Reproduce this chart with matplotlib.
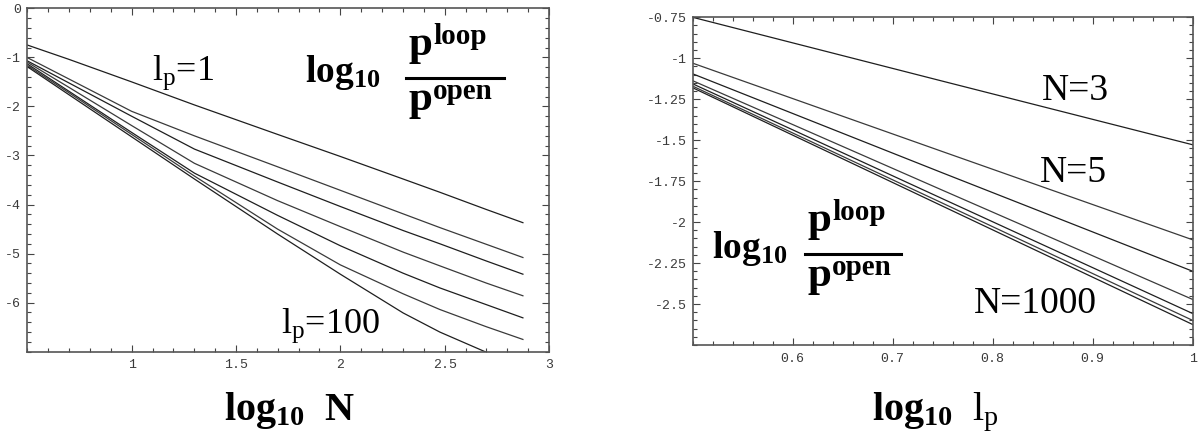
import matplotlib
matplotlib.use("Agg")
import matplotlib.pyplot as plt
from matplotlib.lines import Line2D
from matplotlib.ticker import FixedLocator, FixedFormatter, MultipleLocator

plt.rcParams['mathtext.fontset'] = 'custom'
plt.rcParams['mathtext.rm'] = 'Liberation Serif'
plt.rcParams['mathtext.bf'] = 'Liberation Serif:bold'
plt.rcParams['mathtext.it'] = 'Liberation Serif:italic'
plt.rcParams['axes.unicode_minus'] = False

# ---------------- data: left panel (log10 N on x) ----------------
logN = [0.477, 0.699, 1.0, 1.301, 1.699, 2.0, 2.301, 2.477, 2.699, 2.875]
left_lp1   = [-0.715, -1.04, -1.50, -1.97, -2.57, -3.02, -3.48, -3.75, -4.10, -4.37]
left_lp2   = [-0.955, -1.44, -2.10, -2.60, -3.23, -3.71, -4.19, -4.47, -4.81, -5.08]
left_lp3   = [-1.02, -1.52, -2.20, -2.87, -3.54, -4.04, -4.53, -4.80, -5.15, -5.42]
left_lp5   = [-1.04, -1.61, -2.39, -3.16, -3.92, -4.45, -4.97, -5.25, -5.60, -5.86]
left_lp10  = [-1.07, -1.69, -2.53, -3.36, -4.22, -4.84, -5.40, -5.70, -6.04, -6.31]
left_lp20  = [-1.10, -1.72, -2.57, -3.42, -4.50, -5.23, -5.82, -6.14, -6.49, -6.75]
left_lp100 = [-1.125, -1.76, -2.62, -3.48, -4.60, -5.42, -6.21, -6.60, -7.01, -7.32]
left_series = [left_lp1, left_lp2, left_lp3, left_lp5, left_lp10, left_lp20, left_lp100]

left_xticks = [1, 1.5, 2, 2.5, 3]
left_xticklabels = ["1", "1.5", "2", "2.5", "3"]
left_yticks = [0, -1, -2, -3, -4, -5, -6]
left_yticklabels = ["0", "-1", "-2", "-3", "-4", "-5", "-6"]

# ---------------- data: right panel (log10 lp on x) ----------------
loglp = [0.5, 0.75, 1.0]
right_N3    = [-0.750, -1.140, -1.528]
right_N5    = [-1.030, -1.570, -2.108]
right_N10   = [-1.095, -1.700, -2.300]
right_N20   = [-1.137, -1.806, -2.472]
right_N50   = [-1.156, -1.858, -2.558]
right_N100  = [-1.170, -1.885, -2.600]
right_N1000 = [-1.180, -1.903, -2.625]
right_series = [right_N3, right_N5, right_N10, right_N20, right_N50, right_N100, right_N1000]

right_xticks = [0.6, 0.7, 0.8, 0.9, 1.0]
right_xticklabels = ["0.6", "0.7", "0.8", "0.9", "1"]
right_yticks = [-0.75, -1, -1.25, -1.5, -1.75, -2, -2.25, -2.5]
right_yticklabels = ["-0.75", "-1", "-1.25", "-1.5", "-1.75", "-2", "-2.25", "-2.5"]

W, H = 1202, 436
fig = plt.figure(figsize=(W / 100, H / 100), dpi=100)

def rect(x0, y0, x1, y1):
    return [x0 / W, 1 - y1 / H, (x1 - x0) / W, (y1 - y0) / H]

ax1 = fig.add_axes(rect(27.3, 8.3, 549, 351.7))
ax2 = fig.add_axes(rect(692.7, 17.3, 1192.7, 345))

line_colors = ['#1e1e1e', '#3a3a3a']

def style(ax, xt, xtl, yt, ytl, xminor, yminor):
    for s in ax.spines.values():
        s.set_color('#555555')
        s.set_linewidth(1.2)
    ax.xaxis.set_major_locator(FixedLocator(xt))
    ax.xaxis.set_major_formatter(FixedFormatter(xtl))
    ax.yaxis.set_major_locator(FixedLocator(yt))
    ax.yaxis.set_major_formatter(FixedFormatter(ytl))
    ax.xaxis.set_minor_locator(MultipleLocator(xminor))
    ax.yaxis.set_minor_locator(MultipleLocator(yminor))
    ax.tick_params(which='both', direction='in', top=True, right=True,
                   color='#444444', width=0.8)
    ax.tick_params(which='major', length=5)
    ax.tick_params(which='minor', length=3)
    ax.tick_params(axis='x', which='major', pad=5.5)
    ax.tick_params(axis='y', which='major', pad=4.5)
    for lab in ax.get_xticklabels() + ax.get_yticklabels():
        lab.set_fontfamily('Liberation Mono')
        lab.set_fontsize(9.5)
        lab.set_color('#3a3a3a')

for i, ys in enumerate(left_series):
    ax1.plot(logN, ys, color=line_colors[i % 2], lw=0.9)
ax1.set_xlim(0.5, 3)
ax1.set_ylim(-7, 0)
style(ax1, left_xticks, left_xticklabels, left_yticks, left_yticklabels, 0.1, 0.2)

for i, ys in enumerate(right_series):
    ax2.plot(loglp, ys, color=line_colors[i % 2], lw=0.9)
ax2.set_xlim(0.5, 1.0)
ax2.set_ylim(-2.75, -0.75)
style(ax2, right_xticks, right_xticklabels, right_yticks, right_yticklabels, 0.02, 0.05)

def ftext(x, y, s, **kw):
    fig.text(x / W, 1 - y / H, s, **kw)

serif = 'Liberation Serif'

def ratio_label(x_log, y_base, x_bar0, x_bar1, y_bar):
    ftext(x_log, y_base, r'$\mathbf{log}_{\mathbf{10}}$', family=serif, fontsize=27,
          va='baseline', ha='left')
    fig.add_artist(Line2D([x_bar0 / W, x_bar1 / W], [1 - y_bar / H, 1 - y_bar / H],
                          color='black', lw=2.2, transform=fig.transFigure))
    xp = x_bar0 + 3
    num_base = y_bar - 23
    den_base = y_bar + 32
    for base, sup in ((num_base, 'loop'), (den_base, 'open')):
        ftext(xp, base, 'p', family=serif, fontweight='bold', fontsize=31,
              va='baseline', ha='left')
        ftext(xp + 24, base - 11, sup, family=serif, fontweight='bold', fontsize=21,
              va='baseline', ha='left')

# left panel annotations
ftext(152, 80, r'$\mathrm{l}_\mathrm{p}$=1', family=serif, fontsize=26, va='baseline', ha='left')
ftext(281, 333, r'$\mathrm{l}_\mathrm{p}$=100', family=serif, fontsize=26, va='baseline', ha='left')
ratio_label(305, 82, 406, 504, 78)
ftext(289, 420, r'$\mathbf{log}_{\mathbf{10}}\ \ \mathbf{N}$', family=serif, fontsize=29,
      va='baseline', ha='center')

# right panel annotations
ftext(1042, 100, 'N=3', family=serif, fontsize=27, va='baseline', ha='left')
ftext(1040, 182, 'N=5', family=serif, fontsize=27, va='baseline', ha='left')
ftext(974, 313, 'N=1000', family=serif, fontsize=27, va='baseline', ha='left')
ratio_label(712, 258, 805, 901, 254)
ftext(935, 420, r'$\mathbf{log}_{\mathbf{10}}\ \ \mathrm{l}_\mathrm{p}$', family=serif, fontsize=29,
      va='baseline', ha='center')

fig.savefig('out.png', dpi=100)
